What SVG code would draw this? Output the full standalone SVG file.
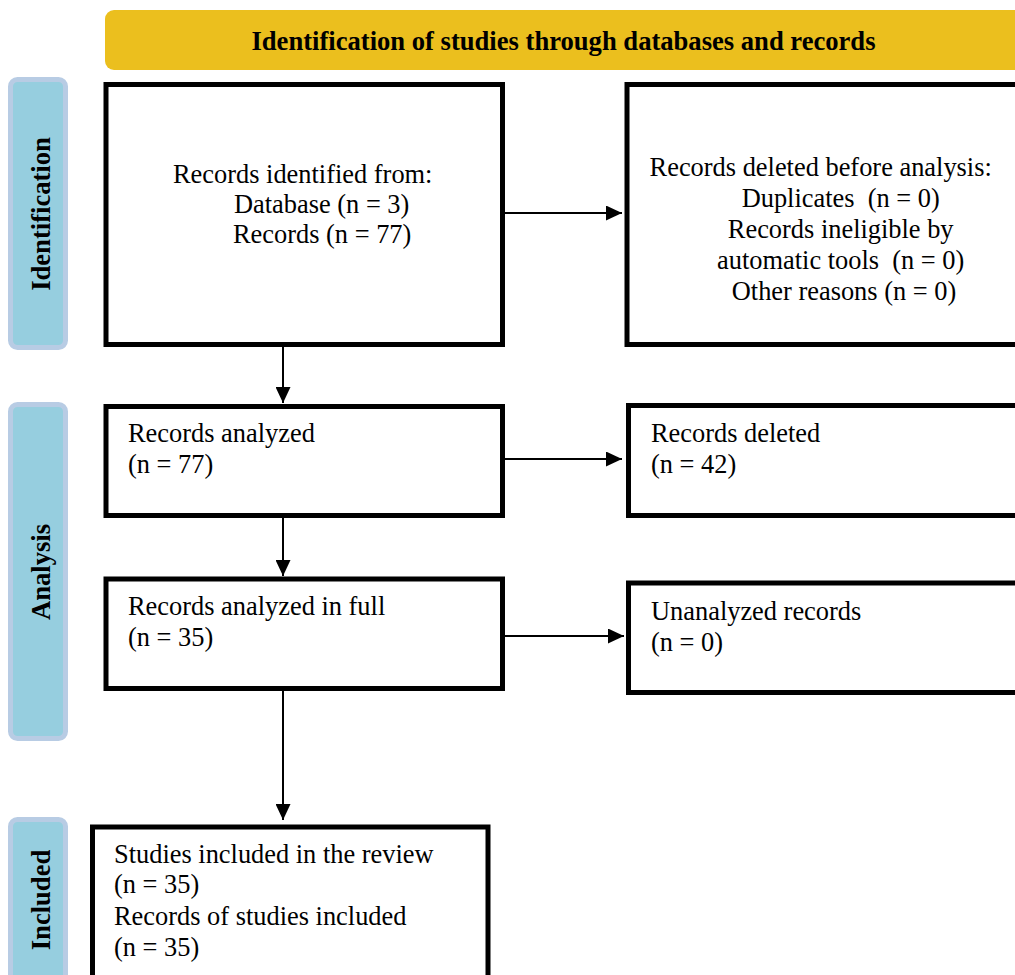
<svg xmlns="http://www.w3.org/2000/svg" width="1015" height="975" viewBox="0 0 1015 975">
<style>
.box{fill:#fff;stroke:#000;stroke-width:5}
.side{fill:#96CEDF;stroke:#B8CCE4;stroke-width:5}
.t{font-family:"Liberation Serif","Times New Roman",serif;font-size:26.4px;fill:#000}
.b{font-family:"Liberation Serif","Times New Roman",serif;font-size:26.6px;font-weight:bold;fill:#000}
.c{stroke:#000;stroke-width:2;fill:none}
</style>
<defs>
<marker id="ah" markerWidth="16" markerHeight="15" refX="16" refY="7.5" orient="auto" markerUnits="userSpaceOnUse">
<path d="M0,0 L16,7.5 L0,15 Z" fill="#000"/>
</marker>
</defs>
<rect width="1015" height="975" fill="#fff"/>
<g id="header">
<rect x="105" y="10" width="930" height="60" rx="9" fill="#EBBF1E"/>
<text class="b" x="563.5" y="50" text-anchor="middle">Identification of studies through databases and records</text>
</g>
<g id="side-identification">
<rect class="side" x="10.5" y="79.5" width="55" height="268" rx="7"/>
<text class="b" transform="translate(50,214) rotate(-90)" text-anchor="middle">Identification</text>
</g>
<g id="side-analysis">
<rect class="side" x="10.5" y="404.5" width="55" height="334" rx="7"/>
<text class="b" transform="translate(50,572) rotate(-90)" text-anchor="middle">Analysis</text>
</g>
<g id="side-included">
<rect class="side" x="10.5" y="819.5" width="55" height="180" rx="7"/>
<text class="b" transform="translate(50,900) rotate(-90)" text-anchor="middle">Included</text>
</g>
<g id="records-identified">
<rect class="box" x="106" y="84.5" width="396.5" height="260"/>
<text class="t" x="173" y="183">Records identified from:</text>
<text class="t" x="234" y="213">Database (n = 3)</text>
<text class="t" x="233" y="243">Records (n = 77)</text>
</g>
<g id="records-deleted-before">
<rect class="box" x="627" y="84.5" width="420" height="260"/>
<text class="t" text-anchor="middle">
<tspan x="824" y="176">Records deleted before analysis:</tspan>
<tspan x="844" y="207" xml:space="preserve">Duplicates  (n = 0)</tspan>
<tspan x="844" y="238">Records ineligible by</tspan>
<tspan x="844" y="269" xml:space="preserve">automatic tools  (n = 0)</tspan>
<tspan x="844" y="300">Other reasons (n = 0)</tspan>
</text>
</g>
<g id="records-analyzed">
<rect class="box" x="106" y="406.5" width="396.5" height="109"/>
<text class="t" x="128" y="442">Records analyzed</text>
<text class="t" x="128" y="473">(n = 77)</text>
</g>
<g id="records-deleted">
<rect class="box" x="628.5" y="405.5" width="420" height="110"/>
<text class="t" x="651" y="442">Records deleted</text>
<text class="t" x="651" y="473">(n = 42)</text>
</g>
<g id="records-analyzed-full">
<rect class="box" x="106" y="579" width="396.5" height="109.5"/>
<text class="t" x="128" y="615">Records analyzed in full</text>
<text class="t" x="128" y="646">(n = 35)</text>
</g>
<g id="unanalyzed-records">
<rect class="box" x="628.5" y="583" width="420" height="109.5"/>
<text class="t" x="651" y="620">Unanalyzed records</text>
<text class="t" x="651" y="651">(n = 0)</text>
</g>
<g id="studies-included">
<rect class="box" x="92.5" y="827" width="395.5" height="200"/>
<text class="t" x="114" y="863">Studies included in the review</text>
<text class="t" x="114" y="893">(n = 35)</text>
<text class="t" x="114" y="925">Records of studies included</text>
<text class="t" x="114" y="956">(n = 35)</text>
</g>
<g id="connectors">
<line class="c" x1="505" y1="213" x2="622" y2="213" marker-end="url(#ah)"/>
<line class="c" x1="283" y1="347" x2="283" y2="403" marker-end="url(#ah)"/>
<line class="c" x1="505" y1="459" x2="622" y2="459" marker-end="url(#ah)"/>
<line class="c" x1="283" y1="518" x2="283" y2="576" marker-end="url(#ah)"/>
<line class="c" x1="505" y1="636" x2="624" y2="636" marker-end="url(#ah)"/>
<line class="c" x1="283" y1="691" x2="283" y2="820" marker-end="url(#ah)"/>
</g>
</svg>
